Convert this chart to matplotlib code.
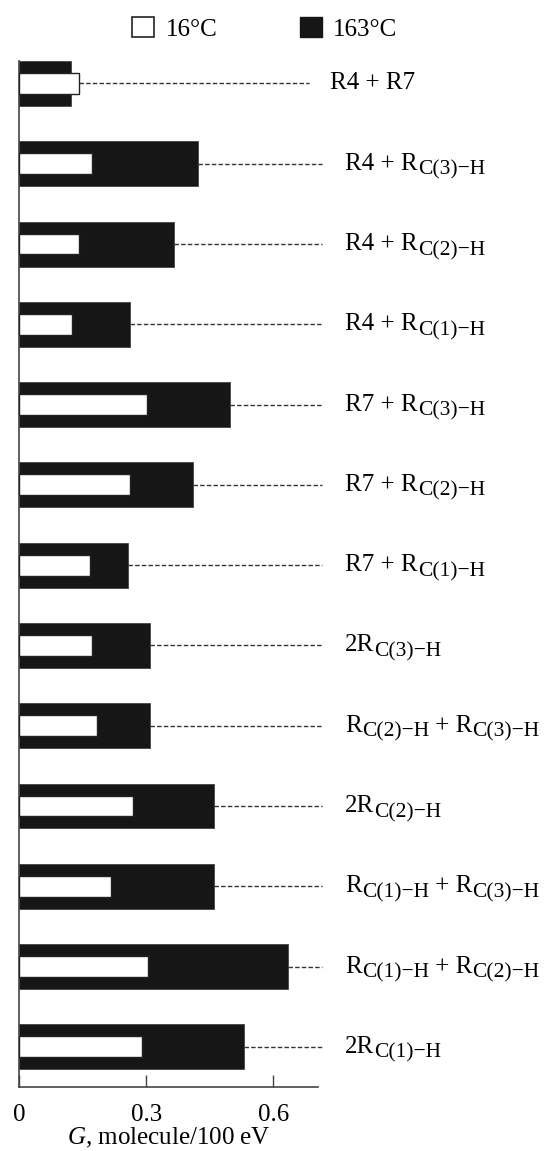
import matplotlib
matplotlib.use("Agg")
import matplotlib.pyplot as plt
from matplotlib.patches import Patch

plt.rcParams["font.family"] = ["Liberation Serif", "DejaVu Serif"]
plt.rcParams["mathtext.fontset"] = "custom"
plt.rcParams["mathtext.rm"] = "Liberation Serif"
plt.rcParams["mathtext.it"] = "Liberation Serif:italic"

# top to bottom; each label is a list of (text, is_subscript)
LABELS = [
    [("R4 + R7", False)],
    [("R4 + R", False), ("C(3)−H", True)],
    [("R4 + R", False), ("C(2)−H", True)],
    [("R4 + R", False), ("C(1)−H", True)],
    [("R7 + R", False), ("C(3)−H", True)],
    [("R7 + R", False), ("C(2)−H", True)],
    [("R7 + R", False), ("C(1)−H", True)],
    [("2R", False), ("C(3)−H", True)],
    [("R", False), ("C(2)−H", True), (" + R", False), ("C(3)−H", True)],
    [("2R", False), ("C(2)−H", True)],
    [("R", False), ("C(1)−H", True), (" + R", False), ("C(3)−H", True)],
    [("R", False), ("C(1)−H", True), (" + R", False), ("C(2)−H", True)],
    [("2R", False), ("C(1)−H", True)],
]
G_16C = [0.142, 0.173, 0.142, 0.124, 0.303, 0.262, 0.168, 0.173, 0.183, 0.268, 0.217, 0.305, 0.291]
G_163C = [0.123, 0.422, 0.365, 0.263, 0.498, 0.411, 0.258, 0.308, 0.308, 0.459, 0.459, 0.634, 0.531]

BLACK = "#161616"
MAIN_FS = 18
SUB_FS = 15.5


def draw_label(ax, x, y, pieces):
    first = ax.text(x, y, pieces[0][0], fontsize=MAIN_FS, va="center", ha="left",
                    clip_on=False)
    prev = first
    for txt, is_sub in pieces[1:]:
        if is_sub:
            prev = ax.annotate(txt, xy=(1, 0), xycoords=(prev, first),
                               fontsize=SUB_FS, va="baseline", ha="left",
                               annotation_clip=False)
        else:
            prev = ax.annotate(txt, xy=(1, 0), xycoords=(prev, first),
                               fontsize=MAIN_FS, va="bottom", ha="left",
                               annotation_clip=False)


fig = plt.figure(figsize=(5.45, 11.51), dpi=100)
ax = fig.add_axes([0.035, 0.0556, 0.548, 0.8914])

ys = list(range(len(LABELS)))
ax.barh(ys, G_163C, height=0.56, color=BLACK, edgecolor="#444444", linewidth=0.6, zorder=2)
ax.barh(ys, G_16C, height=0.26, color="white", edgecolor="#222222", linewidth=1.0, zorder=3)

for i, (y, w, b, lab) in enumerate(zip(ys, G_16C, G_163C, LABELS)):
    dash_end, text_x = (0.685, 0.735) if i == 0 else (0.715, 0.770)
    ax.plot([max(w, b), dash_end], [y, y], color="#333333", linewidth=1.0,
            linestyle=(0, (3.2, 1.6)), zorder=1, clip_on=False)
    draw_label(ax, text_x, y, lab)

ax.set_xlim(0, 0.705)
ax.set_ylim(12.5, -0.28)
ax.set_xticks([0, 0.3, 0.6])
ax.set_xticklabels(["0", "0.3", "0.6"])
ax.set_yticks([])
ax.tick_params(axis="x", direction="in", length=9, width=1, labelsize=18, pad=12, color="#444444")
for side in ("top", "right"):
    ax.spines[side].set_visible(False)
for side in ("left", "bottom"):
    ax.spines[side].set_color("#444444")
    ax.spines[side].set_linewidth(1.2)
ax.set_xlabel("$\\mathit{G}$, molecule/100 eV", fontsize=18, labelpad=0)

handles = [Patch(facecolor="white", edgecolor="#222222", linewidth=1.2),
           Patch(facecolor=BLACK, edgecolor=BLACK)]
fig.legend(handles, ["16°C", "163°C"], loc="center", bbox_to_anchor=(0.486, 0.975),
           ncol=2, frameon=False, fontsize=18, handlelength=0.88, handleheight=0.88,
           handletextpad=0.45, columnspacing=3.3)

fig.savefig("out.png", dpi=100)
